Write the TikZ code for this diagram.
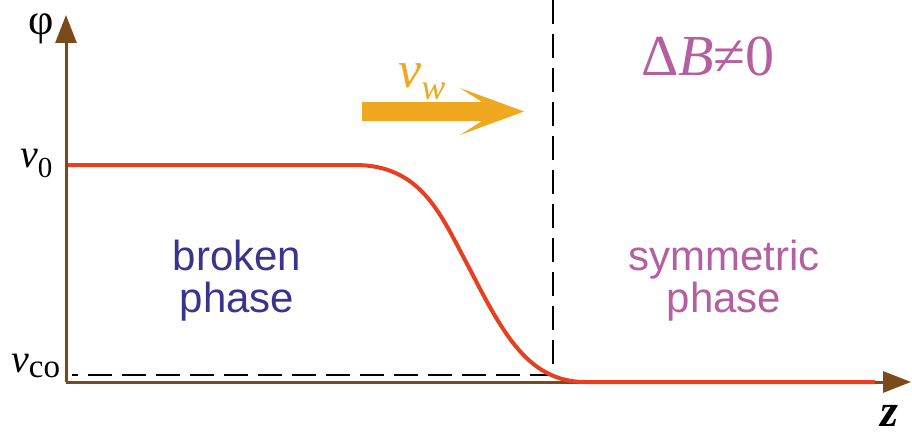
\documentclass[tikz,border=0pt]{standalone}
\usepackage{fontspec}
\setmainfont{Liberation Serif}
\newfontfamily\lsans{Liberation Sans}
\usetikzlibrary{arrows.meta}
\definecolor{axisbrown}{RGB}{122,74,26}
\definecolor{curvered}{RGB}{230,64,32}
\definecolor{worange}{RGB}{239,168,32}
\definecolor{sympurple}{RGB}{180,96,160}
\definecolor{brkblue}{RGB}{58,52,140}
\tikzset{
  axisline/.style={draw=axisbrown, line width=3pt, -{Triangle[length=28pt,width=21pt]}},
  curveline/.style={draw=curvered, line width=4pt},
  dashline/.style={draw=black, line width=2.4pt, dash pattern=on 24pt off 10pt},
  phasetext/.style={font=\lsans\fontsize{42}{42}\selectfont, align=center, inner sep=0pt},
  mathlbl/.style={inner sep=0pt},
}
\begin{document}
\begin{tikzpicture}[x=1pt,y=-1pt]
\useasboundingbox (0,0) rectangle (912,436);
% coordinates
\coordinate (O) at (66,382);
\coordinate (ytop) at (66,15);
\coordinate (xend) at (911,382);
\coordinate (c0) at (68,165);
\coordinate (c1) at (355,165);
\coordinate (c2) at (465,260);
\coordinate (c3) at (585,382);
\coordinate (c4) at (875,382);
\coordinate (dtop) at (553,0);
\coordinate (dcorner) at (553,375);
\coordinate (dleft) at (72,375);
% dashed guides
\draw[dashline] (dtop) -- (dcorner) -- (dleft);
% axes
\draw[axisline] (O) -- (ytop);
\draw[axisline] (O) -- (xend);
% profile curve
\draw[curveline] (c0) -- (c1) .. controls (420,165) and (440,213) .. (c2)
  .. controls (500,327) and (525,382) .. (c3) -- (c4);
% wall velocity arrow
\fill[worange] (362,102) -- (482,102) -- (460,88) -- (524,111.5) -- (460,135) -- (482,121) -- (362,121) -- cycle;
% labels
\node[mathlbl, anchor=base] (phi) at (41,35) {\fontsize{44}{44}\selectfont φ};
\node[mathlbl, anchor=base west] (v0) at (20,167) {\fontsize{40}{40}\selectfont\textit{v}\raisebox{-10pt}{\fontsize{29}{29}\selectfont 0}};
\node[mathlbl, anchor=base west] (vco) at (11,372) {\fontsize{40}{40}\selectfont\textit{v}\raisebox{-5pt}{\fontsize{33}{33}\selectfont co}};
\node[mathlbl, anchor=base west] (vw) at (398,87) {\color{worange}\fontsize{52}{52}\selectfont\textit{v}\raisebox{-13pt}{\fontsize{36}{36}\selectfont\textit{w}}};
\node[mathlbl, anchor=base west] (dB) at (641,75) {\color{sympurple}\fontsize{58}{58}\selectfont Δ\textit{B}≠0};
\node[mathlbl, anchor=base] (z) at (889,426) {\fontsize{46}{46}\selectfont\textbf{\textit{z}}};
\node[phasetext, text=brkblue, anchor=base] (broken) at (237,270) {broken};
\node[phasetext, text=brkblue, anchor=base] (brokenp) at (237,312) {phase};
\node[phasetext, text=sympurple, anchor=base] (sym) at (724,270) {symmetric};
\node[phasetext, text=sympurple, anchor=base] (symp) at (724,312) {phase};
\end{tikzpicture}
\end{document}
